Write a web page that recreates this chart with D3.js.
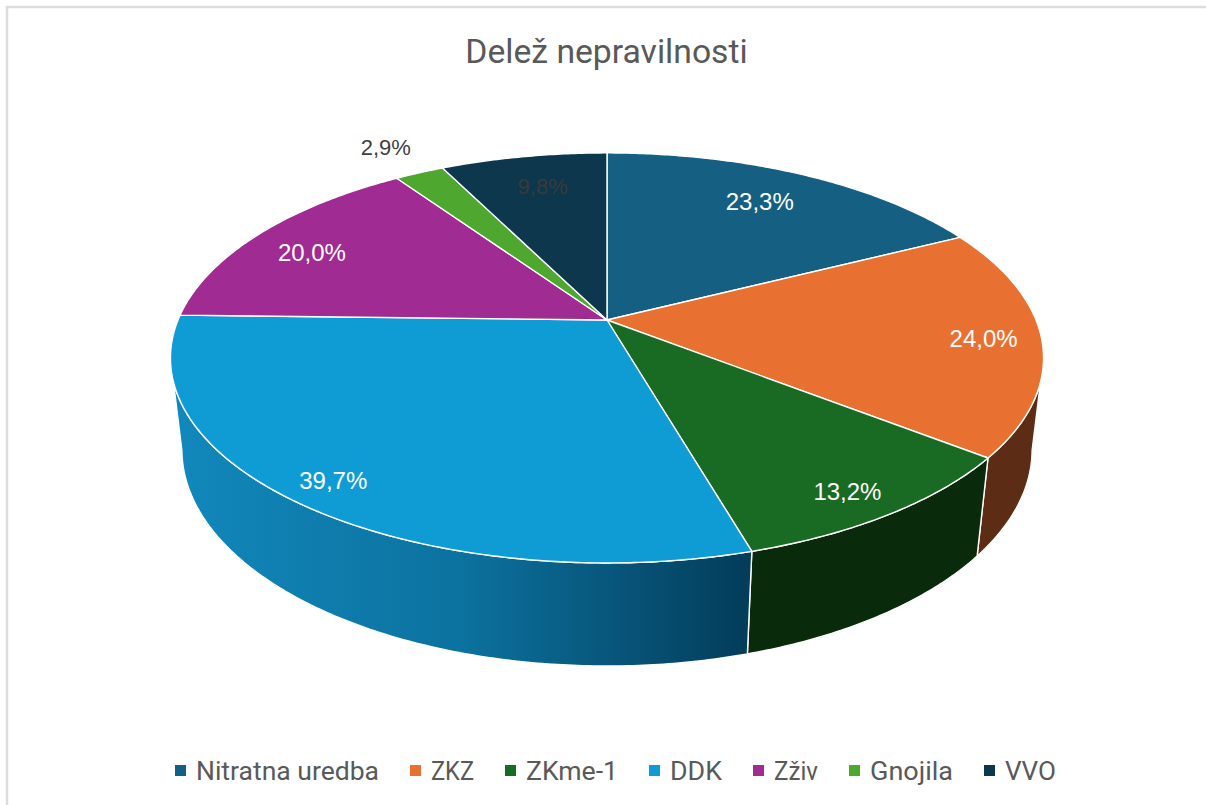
<!DOCTYPE html>
<html><head><meta charset="utf-8">
<script src="https://cdnjs.cloudflare.com/ajax/libs/d3/7.8.5/d3.min.js"></script>
<style>html,body{margin:0;padding:0;background:#fff}svg{display:block}</style>
</head><body><svg id="c" width="1206" height="805"></svg>
<script>
const categories = ["Nitratna uredba","ZKZ","ZKme-1","DDK","Zživ","Gnojila","VVO"];
const values = [23.3,24.0,13.2,39.7,20.0,2.9,9.8];
const valueLabels = ["23,3%","24,0%","13,2%","39,7%","20,0%","2,9%","9,8%"];
const topColors = ["#156082","#e87131","#196b24","#0f9cd5","#a02b93","#4ea72e","#0d374c"];
const wallColors = ["#0c3a4f","#5c2c14","#0a2a0c",null,"#601a58","#2f641c","#08212e"];
const labelColors = ["#fff","#fff","#fff","#fff","#fff","#404040","#3a3a3a"];
const labelSizes = [24,24,24,24,24,22,22];
const labelRadius = [0.79,0.875,0.9,0.88,0.85,1.2,0.78];
const labelNudge = [[-5,0],[-3,1],[-10,0],[-9,2],[3,7],[-2,-1],[3,-2]];
const legendWidths = [183,43,92,52,44,83,51];

const svg = d3.select("#c");
// page frame
svg.append("path").attr("d",d3.line()([[7,805],[7,7],[1206,7]])).attr("fill","none").attr("stroke","#dcdcdc").attr("stroke-width",2.5);
svg.append("text").attr("x",606.5).attr("y",63).attr("text-anchor","middle")
  .attr("font-family","Roboto").attr("font-size",33.7).attr("fill","#595959").text("Delež nepravilnosti");

// perspective projection of the pie disc
const cx=607,cy=320,A=429,B=198,K=0.185,M=0.026,C=93;
function proj(theta,r,z){
  const u=Math.sin(theta)*r,v=Math.cos(theta)*r;
  const w=1+K*v+M*z;
  return [cx+A*u/w, cy-(B*v-C*z)/w];
}
const pie=d3.pie().sort(null).value(d=>d)(values);
const line=d3.line();
function arcPts(a0,a1,z){
  const n=Math.max(2,Math.ceil((a1-a0)/0.01));
  return d3.range(n+1).map(i=>proj(a0+(a1-a0)*i/n,1,z));
}
const defs=svg.append("defs");
const grad=defs.append("linearGradient").attr("id","ddkWall").attr("x1",0).attr("x2",1).attr("y1",0).attr("y2",0);
[[0,"#1188bc"],[0.5,"#0c729f"],[1,"#033c59"]].forEach(s=>grad.append("stop").attr("offset",s[0]).attr("stop-color",s[1]));

// visible part of the cylinder wall: between the two silhouette generators
const visFrom=Math.PI-Math.acos(K), visTo=Math.PI+Math.acos(K);
pie.forEach((p,i)=>{
  const a0=Math.max(p.startAngle,visFrom), a1=Math.min(p.endAngle,visTo);
  if(a1<=a0) return;
  const pts=arcPts(a0,a1,0).concat(arcPts(a0,a1,1).reverse());
  svg.append("path").attr("d",line(pts)+"Z")
    .attr("fill",i===3?"url(#ddkWall)":wallColors[i])
    .attr("stroke","#fff").attr("stroke-width",1.4).attr("stroke-linejoin","round");
});
// top faces
pie.forEach((p,i)=>{
  const pts=[proj(0,0,0)].concat(arcPts(p.startAngle,p.endAngle,0));
  svg.append("path").attr("d",line(pts)+"Z").attr("fill",topColors[i])
    .attr("stroke","#fff").attr("stroke-width",1.4).attr("stroke-linejoin","round");
});
// labels
pie.forEach((p,i)=>{
  const q=proj((p.startAngle+p.endAngle)/2,labelRadius[i],0);
  svg.append("text").attr("x",q[0]+labelNudge[i][0]).attr("y",q[1]+labelNudge[i][1]).attr("dy","0.35em").attr("text-anchor","middle")
    .attr("font-family","'Liberation Sans'").attr("font-size",labelSizes[i]).attr("fill",labelColors[i]).text(valueLabels[i]);
});
// legend
const lg=svg.append("g");
let x=175;const ly=771;
categories.forEach((c,i)=>{
  lg.append("rect").attr("x",x).attr("y",ly-6).attr("width",11).attr("height",11).attr("fill",topColors[i]);
  lg.append("text").attr("x",x+21).attr("y",ly).attr("dy","0.35em")
    .attr("font-family","Roboto").attr("font-size",26).attr("fill","#595959")
    .attr("textLength",legendWidths[i]).attr("lengthAdjust","spacingAndGlyphs").text(c);
  x+=21+legendWidths[i]+31;
});
</script></body></html>
